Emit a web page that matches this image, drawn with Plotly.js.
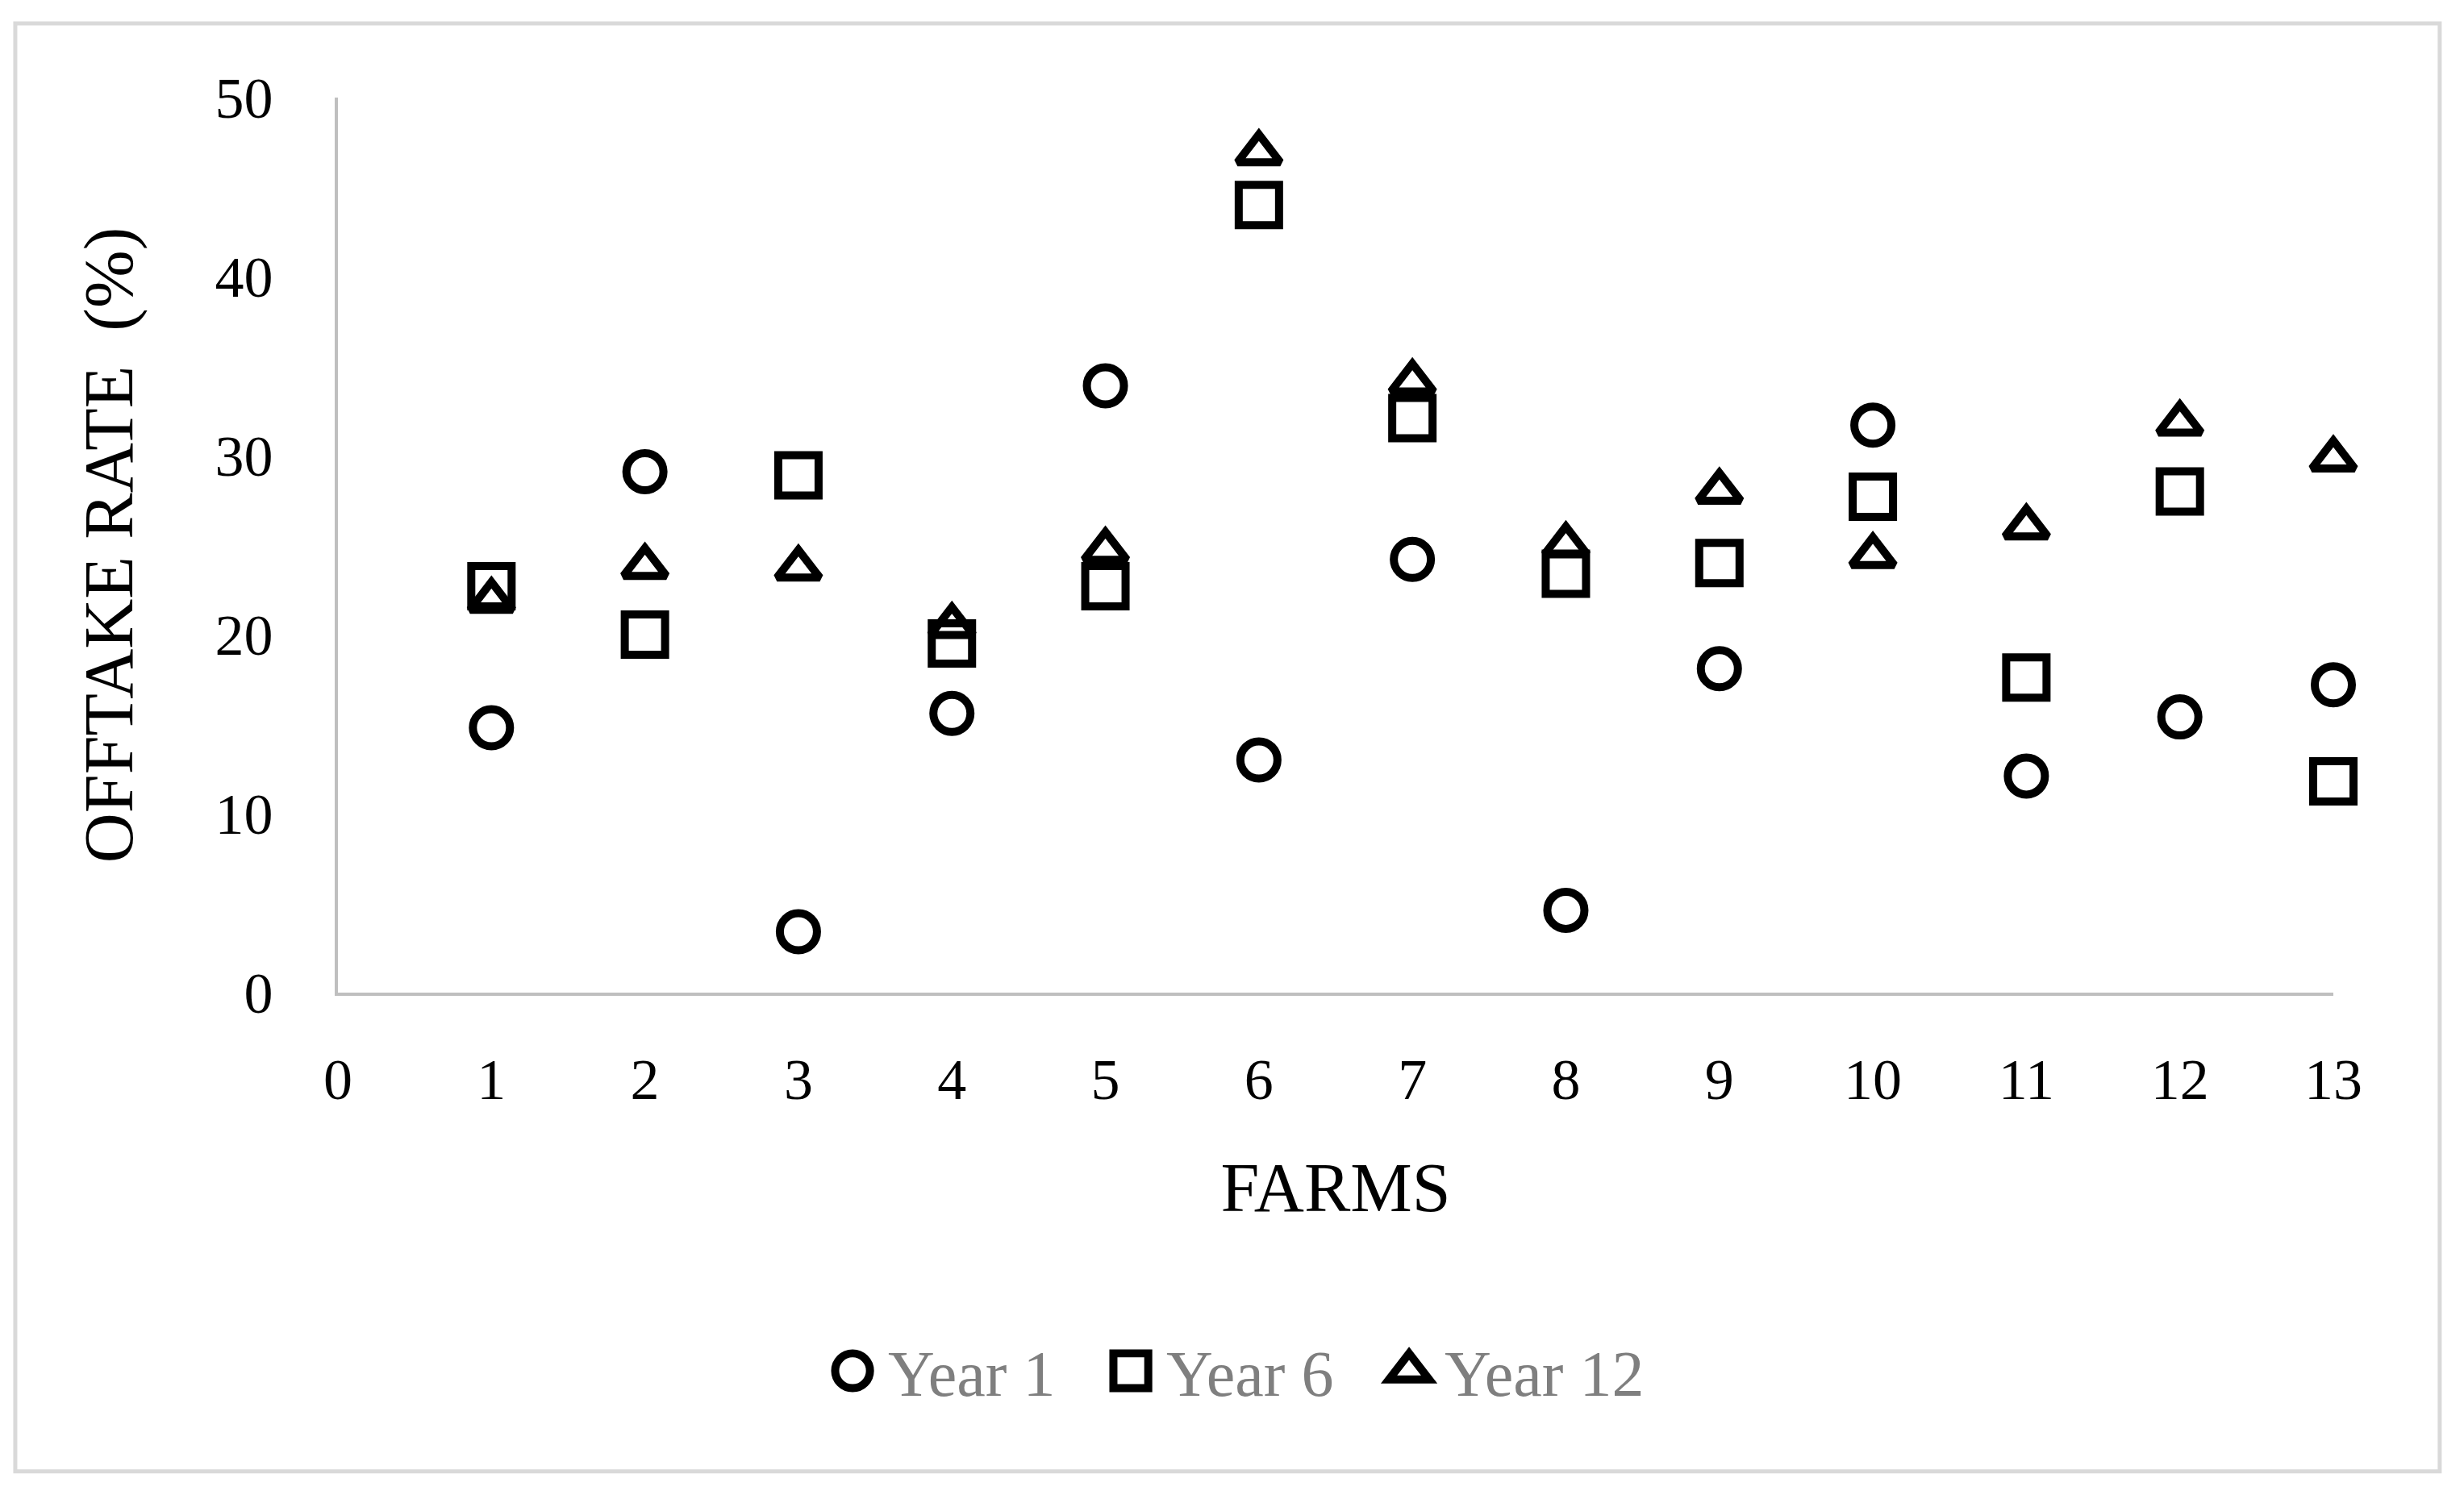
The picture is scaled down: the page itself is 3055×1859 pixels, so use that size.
<!DOCTYPE html>
<html>
<head>
<meta charset="utf-8">
<script src="https://cdn.plot.ly/plotly-3.0.1.min.js"></script>
<style>
  body { margin: 0; background: #fff; }
  #chart { width: 3055px; height: 1859px; }
</style>
</head>
<body>
<div id="chart"></div>
<script>
// farms 1..13
let farms = [1, 2, 3, 4, 5, 6, 7, 8, 9, 10, 11, 12, 13];

// offtake rate (%)
let year1  = [14.8, 29.1, 3.4, 15.6, 33.9, 13.0, 24.2, 4.6, 18.1, 31.7, 12.1, 15.4, 17.2];
let year6  = [22.7, 20.0, 28.9, 19.5, 22.7, 44.0, 32.1, 23.4, 24.0, 27.7, 17.6, 28.0, 11.8];
let year12 = [21.9, 23.8, 23.7, 20.5, 24.7, 46.9, 34.1, 25.0, 28.0, 24.4, 26.0, 31.8, 29.8];

let xTicks = [0, 1, 2, 3, 4, 5, 6, 7, 8, 9, 10, 11, 12, 13];
let yTicks = [0, 10, 20, 30, 40, 50];

let serif = "Liberation Serif, Times New Roman, serif";

// open symbols take their stroke colour from marker.color
function series(name, vals, symbol, size) {
    return {
        x: farms,
        y: vals,
        name: name,
        type: "scatter",
        mode: "markers",
        cliponaxis: false,
        marker: {
            symbol: symbol,
            size: size,
            color: "#000",
            line: {color: "#000", width: 10}
        }
    };
}

let traces = [
    series("Year 1", year1, "circle-open", 46),
    series("Year 6", year6, "square-open", 50),
    series("Year 12", year12, "triangle-up-open", 46)
];

let layout = {
    width: 3055,
    height: 1859,
    margin: {l: 419, r: 162, t: 121, b: 628},
    paper_bgcolor: "#fff",
    plot_bgcolor: "#fff",
    font: {family: serif, color: "#000", size: 72},
    showlegend: true,
    legend: {
        orientation: "h",
        x: 0.459, xanchor: "center",
        y: -0.4225, yanchor: "middle",
        font: {family: serif, size: 80, color: "#7f7f7f"},
        entrywidth: 300
    },
    xaxis: {
        range: [0, 13],
        tickvals: xTicks,
        showgrid: false,
        zeroline: false,
        showline: true,
        linecolor: "#bfbfbf",
        linewidth: 4,
        ticks: "outside",
        ticklen: 42,
        tickcolor: "rgba(0,0,0,0)",
        tickfont: {family: serif, size: 72},
        title: {text: "FARMS", font: {family: serif, size: 86}, standoff: 64}
    },
    yaxis: {
        range: [0, 50],
        tickvals: yTicks,
        showgrid: false,
        zeroline: false,
        showline: true,
        linecolor: "#bfbfbf",
        linewidth: 4,
        ticks: "outside",
        ticklen: 62,
        tickcolor: "rgba(0,0,0,0)",
        tickfont: {family: serif, size: 72},
        title: {text: "OFFTAKE RATE\u00a0\u00a0(%)", font: {family: serif, size: 86}, standoff: 74}
    },
    shapes: [{
        type: "rect",
        xref: "paper", yref: "paper",
        x0: -0.1617, x1: 1.0533,
        y0: -0.535, y1: 1.0829,
        line: {color: "#d9d9d9", width: 5}
    }]
};

Plotly.newPlot("chart", traces, layout, {displayModeBar: false, staticPlot: true}).then(function () {
    // legend symbols are capped at 16px by plotly, scale them up to match the markers
    let box = document.querySelector("#chart .legend .scrollbox");
    if (box) box.removeAttribute("clip-path");
    document.querySelectorAll("#chart .legend .legendpoints path").forEach(function (p) {
        p.setAttribute("transform", "translate(20,0) scale(2.7)");
        p.style.strokeWidth = "3.7px";
    });
    document.querySelectorAll("#chart .legend text.legendtext").forEach(function (t) {
        t.setAttribute("x", 64);
    });
});
</script>
</body>
</html>
